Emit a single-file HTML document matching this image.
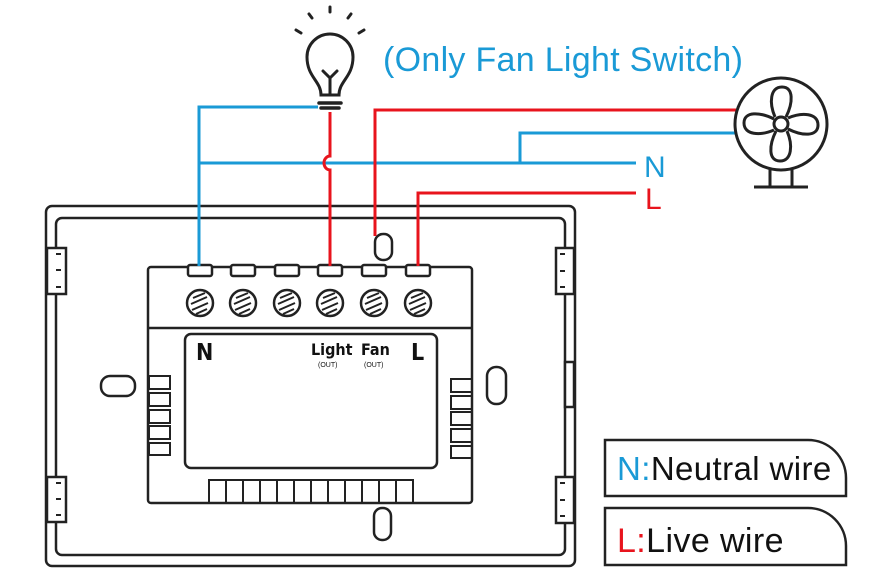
<!DOCTYPE html>
<html><head><meta charset="utf-8"><style>
body{margin:0;background:#fff}
svg{display:block}
</style></head><body>
<svg width="891" height="585" viewBox="0 0 891 585" xmlns="http://www.w3.org/2000/svg" font-family="Liberation Sans, sans-serif">
<g fill="none" stroke="#222" stroke-width="2.5">
<rect x="46" y="206" width="529" height="360" rx="6"/>
<rect x="56" y="218" width="509" height="337" rx="6"/>
<rect x="47" y="248" width="19" height="46" fill="#fff"/>
<rect x="47" y="477" width="19" height="45" fill="#fff"/>
<rect x="556" y="248" width="18" height="46" fill="#fff"/>
<rect x="556" y="477" width="18" height="46" fill="#fff"/>
<rect x="565" y="362" width="9" height="45" fill="#fff"/>
<path d="M56 254h5M56 270h5M56 287h5M56 483h5M56 499h5M56 515h5M565 254h-5M565 271h-5M565 287h-5M565 483h-5M565 500h-5M565 516h-5" stroke-width="2"/>
<rect x="101" y="376" width="34" height="20" rx="9"/>
<rect x="487" y="367" width="19" height="37" rx="9"/>
<rect x="374" y="508" width="17" height="32" rx="8"/>
<rect x="375" y="234" width="17" height="26" rx="8"/>
<rect x="148" y="267" width="324" height="236" rx="3" fill="#fff"/>
<line x1="148" y1="328" x2="472" y2="328"/>
<rect x="185" y="334" width="252" height="134" rx="6"/>
<g fill="#fff">
<rect x="188" y="265" width="24" height="11" rx="2"/>
<rect x="231" y="265" width="24" height="11" rx="2"/>
<rect x="275" y="265" width="24" height="11" rx="2"/>
<rect x="318" y="265" width="24" height="11" rx="2"/>
<rect x="362" y="265" width="24" height="11" rx="2"/>
<rect x="406" y="265" width="24" height="11" rx="2"/>
</g>
<g>
<circle cx="200" cy="303" r="13"/><circle cx="243" cy="303" r="13"/><circle cx="287" cy="303" r="13"/>
<circle cx="330" cy="303" r="13"/><circle cx="374" cy="303" r="13"/><circle cx="418" cy="303" r="13"/>
</g>
<g stroke-width="2">
<path d="M193 298l12-5M191 304l16-7M192 310l16-7M196 314l11-5"/>
<path d="M236 298l12-5M234 304l16-7M235 310l16-7M239 314l11-5"/>
<path d="M280 298l12-5M278 304l16-7M279 310l16-7M283 314l11-5"/>
<path d="M323 298l12-5M321 304l16-7M322 310l16-7M326 314l11-5"/>
<path d="M367 298l12-5M365 304l16-7M366 310l16-7M370 314l11-5"/>
<path d="M411 298l12-5M409 304l16-7M410 310l16-7M414 314l11-5"/>
</g>
<g stroke-width="2">
<rect x="149" y="376" width="21" height="13"/><rect x="149" y="393" width="21" height="13"/><rect x="149" y="410" width="21" height="13"/><rect x="149" y="426" width="21" height="13"/><rect x="149" y="443" width="21" height="12"/>
<rect x="451" y="379" width="21" height="13"/><rect x="451" y="396" width="21" height="13"/><rect x="451" y="412" width="21" height="13"/><rect x="451" y="429" width="21" height="13"/><rect x="451" y="446" width="21" height="12"/>
<path d="M209 503v-23h204v23M226 480v23M243 480v23M260 480v23M277 480v23M294 480v23M311 480v23M328 480v23M345 480v23M362 480v23M379 480v23M396 480v23"/>
</g>
</g>
<g fill="#111">
<text x="196" y="360" font-size="23" font-weight="bold" font-family="DejaVu Sans Condensed, Liberation Sans, sans-serif">N</text>
<text x="311" y="355" font-size="16" font-weight="bold" font-family="DejaVu Sans Condensed, Liberation Sans, sans-serif">Light</text>
<text x="361" y="355" font-size="16" font-weight="bold" font-family="DejaVu Sans Condensed, Liberation Sans, sans-serif">Fan</text>
<text x="318" y="367" font-size="7">(OUT)</text>
<text x="364" y="367" font-size="7">(OUT)</text>
<text x="411" y="360" font-size="23" font-weight="bold" font-family="DejaVu Sans Condensed, Liberation Sans, sans-serif">L</text>
</g>
<g fill="none" stroke-width="3">
<path d="M199 266V107H318" stroke="#1a9ad6"/>
<path d="M198 163H636M520 163V133H735" stroke="#1a9ad6"/>
<path d="M330 266V170a6 7 0 0 1 0-14V112" stroke="#e8141d"/>
<path d="M375 236V110H736" stroke="#e8141d"/>
<path d="M418 266V193H636" stroke="#e8141d"/>
</g>
<text x="644" y="177" font-size="30" fill="#1a9ad6">N</text>
<text x="645" y="209" font-size="30" fill="#e8141d">L</text>
<g fill="none" stroke="#222" stroke-width="3" stroke-linecap="round">
<path d="M321 95c0-14-14-18-14-38a23 23 0 0 1 46 0c0 20-14 24-14 38z"/>
<path d="M321 95h18M330 95V78l-7-7M330 78l7-7"/>
<path d="M319 103h22M321 108h18" stroke-width="3.5"/>
<path d="M330 7v5M309 14l3 4M351 14l-3 4M296 30l5 3M364 30l-5 3"/>
</g>
<g fill="none" stroke="#222" stroke-width="3">
<circle cx="781" cy="124" r="46"/>
<circle cx="781" cy="124" r="7"/>
<path d="M775 117c-6-14-5-30 7-30s11 16 4 30"/>
<path d="M788 118c14-6 30-5 30 7s-16 11-30 4"/>
<path d="M787 131c6 14 5 30-7 30s-11-16-4-30"/>
<path d="M774 130c-14 6-30 5-30-7s16-11 30-4"/>
<path d="M770 169v17M792 169v17M754 187h54"/>
</g>
<text x="383" y="71" font-size="34" fill="#1a9ad6" letter-spacing="0.3">(Only Fan Light Switch)</text>
<g fill="none" stroke="#222" stroke-width="2.5">
<path d="M605 496V440H808a38 38 0 0 1 38 38V496Z"/>
<path d="M605 565V508H808a38 38 0 0 1 38 38V565Z"/>
</g>
<text x="617" y="480" font-size="33" fill="#111" letter-spacing="0.4"><tspan fill="#1a9ad6">N:</tspan>Neutral wire</text>
<text x="617" y="552" font-size="34" fill="#111" letter-spacing="0.4"><tspan fill="#e8141d">L:</tspan>Live wire</text>
</svg>
</body></html>
